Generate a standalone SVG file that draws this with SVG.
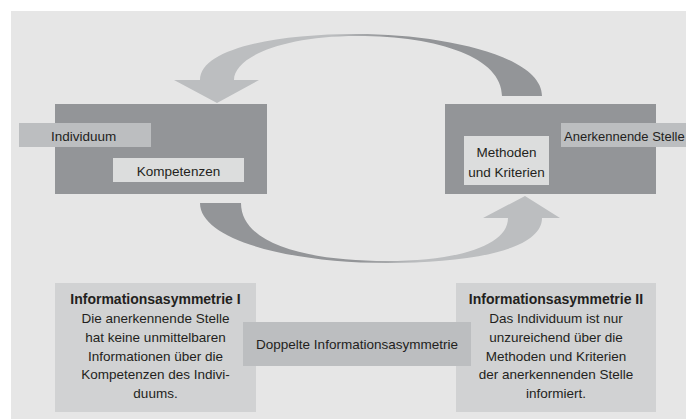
<svg xmlns="http://www.w3.org/2000/svg" width="686" height="419" viewBox="0 0 686 419">
<style>
text{font-family:"Liberation Sans",Arial,sans-serif;font-size:13.5px;fill:#231f20}
.b{font-weight:bold;font-size:14px}
.m{text-anchor:middle}
.dark{fill:#939598}
.mid{fill:#bcbec0}
.light{fill:#dcdddd}
.pale{fill:#d1d2d3}
</style>
<defs>
<linearGradient id="gTop" gradientUnits="userSpaceOnUse" x1="390" y1="0" x2="330" y2="0">
<stop offset="0" stop-color="#939598"/><stop offset="1" stop-color="#bcbec0"/>
</linearGradient>
<linearGradient id="gBot" gradientUnits="userSpaceOnUse" x1="360" y1="0" x2="420" y2="0">
<stop offset="0" stop-color="#939598"/><stop offset="1" stop-color="#bcbec0"/>
</linearGradient>
</defs>
<rect x="11" y="11" width="675" height="408" fill="#e6e6e6"/>
<g id="connectors">
<path fill="url(#gTop)" d="M 542 96 C 542 55, 440 34, 357 34 C 270 34, 200 50, 200 80 L 174 80 L 217 103 L 259 80 L 234 80 C 234 58, 280 36, 357 36 C 440 36, 502 58, 502 96 Z"/>
<path fill="url(#gBot)" d="M 200 203 C 200 240, 290 263, 387 263 C 470 263, 542 250, 542 218 L 560 218 L 525 196 L 483 218 L 508 218 C 508 245, 460 261, 387 261 C 310 261, 241 245, 241 203 Z"/>
</g>
<g id="individuum">
<rect class="dark" x="55" y="104" width="212" height="90"/>
<rect class="mid" x="19" y="123" width="132" height="24"/>
<text x="51" y="140.5">Individuum</text>
<rect class="light" x="113" y="158" width="131" height="24"/>
<text class="m" x="178.5" y="175.5">Kompetenzen</text>
</g>
<g id="stelle">
<rect class="dark" x="445" y="104" width="211" height="90"/>
<rect class="mid" x="561" y="123" width="125" height="24"/>
<text x="564" y="140.5" style="font-size:13px">Anerkennende Stelle</text>
<rect class="light" x="464" y="136" width="85" height="49"/>
<text class="m" x="506.5" y="157">Methoden</text>
<text class="m" x="506.5" y="176.5">und Kriterien</text>
</g>
<g id="asym1">
<rect class="pale" x="55" y="283" width="201" height="129"/>
<text class="b m" x="155.5" y="304">Informationsasymmetrie I</text>
<text class="m" x="155.5" y="322.7">Die anerkennende Stelle</text>
<text class="m" x="155.5" y="341.6">hat keine unmittelbaren</text>
<text class="m" x="155.5" y="360.5">Informationen über die</text>
<text class="m" x="155.5" y="379.4">Kompetenzen des Indivi-</text>
<text class="m" x="155.5" y="398.3">duums.</text>
</g>
<g id="asym2">
<rect class="pale" x="456" y="283" width="200" height="129"/>
<text class="b m" x="556" y="304">Informationsasymmetrie II</text>
<text class="m" x="556" y="322.7">Das Individuum ist nur</text>
<text class="m" x="556" y="341.6">unzureichend über die</text>
<text class="m" x="556" y="360.5">Methoden und Kriterien</text>
<text class="m" x="556" y="379.4">der anerkennenden Stelle</text>
<text class="m" x="556" y="398.3">informiert.</text>
</g>
<g id="doppelt">
<rect class="mid" x="243" y="322" width="228" height="44"/>
<text class="m" x="357" y="348.5">Doppelte Informationsasymmetrie</text>
</g>
</svg>
